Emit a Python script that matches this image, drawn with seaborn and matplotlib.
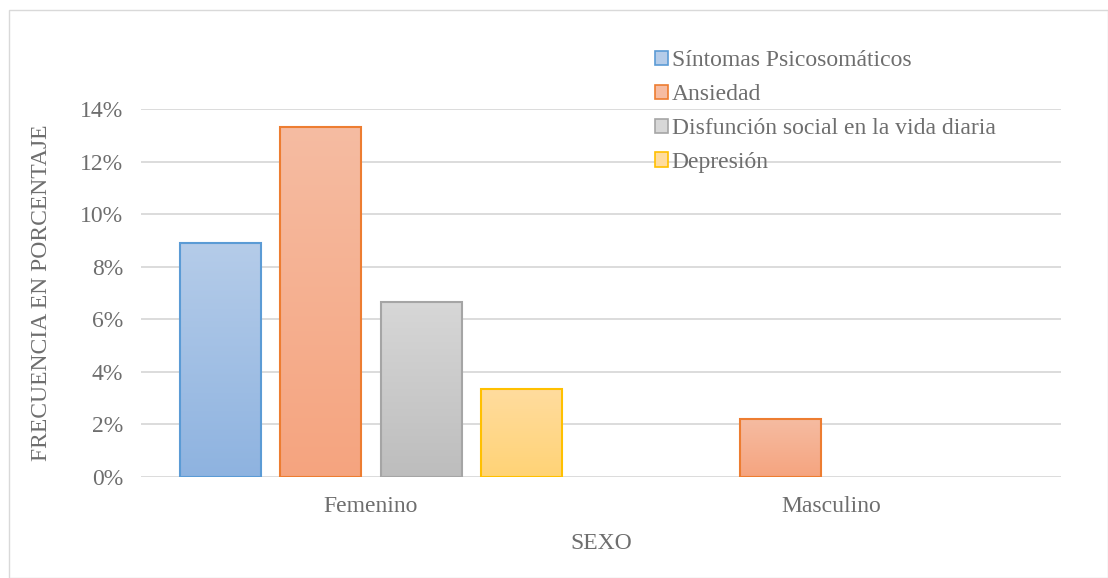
import matplotlib
matplotlib.use("Agg")
import matplotlib.pyplot as plt
import seaborn as sns
import numpy as np
import pandas as pd
from matplotlib.colors import LinearSegmentedColormap
from matplotlib.patches import Rectangle, Patch

categories = ["Femenino", "Masculino"]
series = ["Síntomas Psicosomáticos", "Ansiedad", "Disfunción social en la vida diaria", "Depresión"]
values = {
    "Síntomas Psicosomáticos": [8.89, 0.0],
    "Ansiedad": [13.33, 2.22],
    "Disfunción social en la vida diaria": [6.67, 0.0],
    "Depresión": [3.33, 0.0],
}
yticks = [0, 2, 4, 6, 8, 10, 12, 14]
ytick_labels = ["0%", "2%", "4%", "6%", "8%", "10%", "12%", "14%"]

edge_colors = ["#5B9BD5", "#ED7D31", "#A5A5A5", "#FFC000"]
top_colors = ["#B5CCE9", "#F6BCA2", "#D7D7D7", "#FFDC9E"]
bot_colors = ["#8EB3E0", "#F5A47F", "#BDBDBD", "#FFD376"]

rows = []
for s in series:
    for c, v in zip(categories, values[s]):
        rows.append({"Sexo": c, "Serie": s, "Valor": v})
df = pd.DataFrame(rows)

sns.set_theme(style="white")
plt.rcParams["font.family"] = ["Liberation Serif", "DejaVu Serif"]

TXT = "#6E6E6E"
FS = 17

fig = plt.figure(figsize=(11.08, 5.78), dpi=100)
ax = fig.add_axes([141 / 1108, 1 - 477 / 578, 920 / 1108, (477 - 109) / 578])

sns.barplot(data=df, x="Sexo", y="Valor", hue="Serie", order=categories, hue_order=series,
            palette=edge_colors, ax=ax, width=0.87, gap=0.19, legend=False)

ax.set_ylim(0, 14)
ax.set_xlim(-0.5, 1.5)
ax.set_yticks(yticks)
ax.set_yticklabels(ytick_labels)
ax.yaxis.grid(True, color="#D9D9D9", linewidth=1.3)
ax.set_axisbelow(True)
for sp in ax.spines.values():
    sp.set_visible(False)
ax.tick_params(axis="both", length=0, labelsize=FS, labelcolor=TXT)
ax.tick_params(axis="y", pad=13)
ax.tick_params(axis="x", pad=14)
ax.set_xlabel("SEXO", fontsize=FS, color=TXT, labelpad=11)
ax.set_ylabel("FRECUENCIA EN PORCENTAJE", fontsize=FS, color=TXT, labelpad=20)

# gradient fills
n_cat = len(categories)
for i, bar in enumerate(ax.patches):
    si = i // n_cat
    h = bar.get_height()
    if h <= 0:
        bar.set_visible(False)
        continue
    x0, w = bar.get_x(), bar.get_width()
    cmap = LinearSegmentedColormap.from_list("g", [bot_colors[si], top_colors[si]])
    grad = np.linspace(0, 1, 256).reshape(-1, 1)
    im = ax.imshow(grad, cmap=cmap, aspect="auto", origin="lower",
                   extent=[x0, x0 + w, 0, h], zorder=2)
    im.set_clip_path(bar)
    bar.set_facecolor("none")
    bar.set_edgecolor(edge_colors[si])
    bar.set_linewidth(1.5)
    bar.set_zorder(3)
ax.set_xlim(-0.5, 1.5)
ax.set_ylim(0, 14)

handles = [Patch(facecolor=top_colors[k], edgecolor=edge_colors[k], linewidth=1.2) for k in range(len(series))]
leg = fig.legend(handles, series, loc="upper left", bbox_to_anchor=(655 / 1108, 1 - 50 / 578),
                 frameon=False, fontsize=FS, handlelength=0.55, handleheight=0.55,
                 handletextpad=0.15, labelspacing=0.55, borderaxespad=0, borderpad=0)
for t in leg.get_texts():
    t.set_color(TXT)

fig.patches.append(Rectangle((9 / 1108, 0), 1 - 9 / 1108, 1 - 10 / 578, transform=fig.transFigure,
                             fill=False, edgecolor="#D9D9D9", linewidth=1.0))

fig.savefig("out.png", dpi=100)
